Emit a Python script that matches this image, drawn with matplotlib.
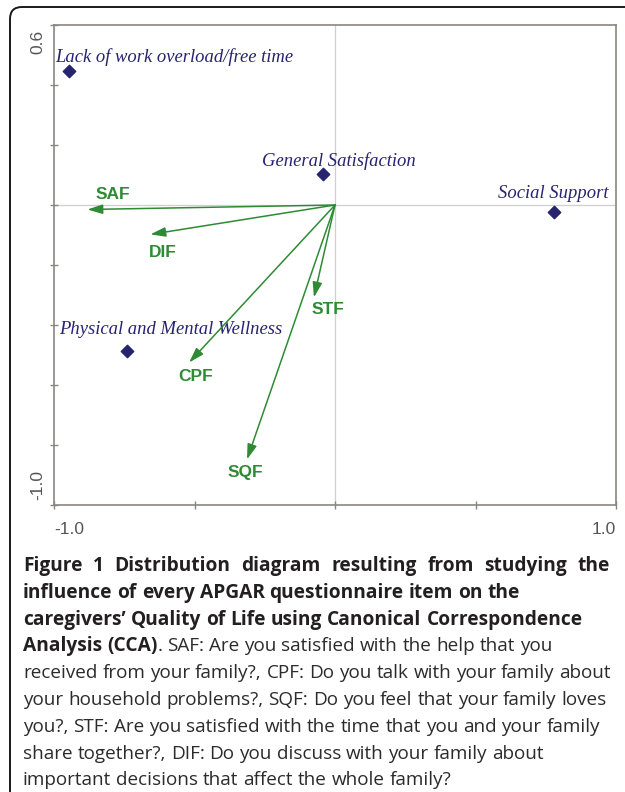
import matplotlib
matplotlib.use("Agg")
import matplotlib.pyplot as plt
from matplotlib.patches import FancyBboxPatch

# site scores (environmental variables)
site_names = ["Lack of work overload/free time", "General Satisfaction",
              "Social Support", "Physical and Mental Wellness"]
site_x = [-0.948, -0.043, 0.778, -0.739]
site_y = [0.448, 0.102, -0.022, -0.488]

# APGAR items (arrows from origin)
item_names = ["SAF", "DIF", "CPF", "SQF", "STF"]
item_x = [-0.881, -0.657, -0.519, -0.313, -0.075]
item_y = [-0.015, -0.098, -0.525, -0.848, -0.308]

# caption lines: (text, bold) pieces
caption = [
    [("Figure 1 Distribution diagram resulting from studying the", True)],
    [("influence of every APGAR questionnaire item on the", True)],
    [("caregivers\u2019 Quality of Life using Canonical Correspondence", True)],
    [("Analysis (CCA)", True), (". SAF: Are you satisfied with the help that you", False)],
    [("received from your family?, CPF: Do you talk with your family about", False)],
    [("your household problems?, SQF: Do you feel that your family loves", False)],
    [("you?, STF: Are you satisfied with the time that you and your family", False)],
    [("share together?, DIF: Do you discuss with your family about", False)],
    [("important decisions that affect the whole family?", False)],
]
# justified right edge (px) where the original line is stretched, else None
caption_right = [610, None, None, None, None, None, None, None, None]

navy = "#26246e"
green = "#2e8b34"
frame = "#8a8580"

W, H = 625, 792
fig = plt.figure(figsize=(W / 100, H / 100), dpi=100)
renderer = fig.canvas.get_renderer()
ax = fig.add_axes([54 / W, 1 - 505 / H, (616 - 54) / W, (505 - 25) / H])
ax.set_xlim(-1.0, 1.0)
ax.set_ylim(-1.0, 0.6)

for s in ax.spines.values():
    s.set_color(frame)
    s.set_linewidth(1.2)
ax.set_xticks([-1.0, -0.5, 0.0, 0.5, 1.0])
ax.set_yticks([0.6, 0.4, 0.2, 0.0, -0.2, -0.4, -0.6, -0.8, -1.0])
ax.tick_params(direction="inout", length=6, width=1, color=frame,
               labelbottom=False, labelleft=False)

ax.axhline(0, color="#cfcfcf", lw=0.9, zorder=0)
ax.axvline(0, color="#cfcfcf", lw=0.9, zorder=0)

# end labels only, like the original software
tick_kw = dict(color="#555555", fontsize=12.5, family="Liberation Sans")
ax.text(0, -0.035, "-1.0", transform=ax.transAxes, ha="left", va="top", **tick_kw)
ax.text(1, -0.035, "1.0", transform=ax.transAxes, ha="right", va="top", **tick_kw)
ax.text(-0.015, 0.99, "0.6", transform=ax.transAxes, ha="right", va="top",
        rotation=90, **tick_kw)
ax.text(-0.015, 0.01, "-1.0", transform=ax.transAxes, ha="right", va="bottom",
        rotation=90, **tick_kw)

ax.scatter(site_x, site_y, marker="D", s=40, color=navy, zorder=3)
site_off = [(-13, 9), (16, 8), (0, 14), (43, 17)]
site_ha = ["left", "center", "center", "center"]
for name, x, y, off, ha in zip(site_names, site_x, site_y, site_off, site_ha):
    ax.annotate(name, (x, y), xytext=off, textcoords="offset pixels",
                ha=ha, va="baseline", color=navy, fontsize=13.4,
                family="Liberation Serif", style="italic")

item_off = [(25, 15), (12, -18), (6, -14), (-2, -13), (14, -12)]
for name, x, y, off in zip(item_names, item_x, item_y, item_off):
    ax.annotate("", xy=(x, y), xytext=(0, 0),
                arrowprops=dict(arrowstyle="-|>,head_length=0.7,head_width=0.22",
                                color=green, lw=1.1, mutation_scale=13,
                                shrinkA=0, shrinkB=0))
    ax.annotate(name, (x, y), xytext=off, textcoords="offset pixels",
                ha="center", va="center", color=green, fontsize=12.5,
                family="Liberation Sans", weight="bold")


# caption, set word by word so a line can be stretched
def cap_style(bold):
    if bold:
        return dict(color="#231f20", family="Open Sans", weight="bold", fontsize=13.8)
    return dict(color="#2b2b2b", family="Open Sans", fontsize=13.6)


def width(s, bold):
    t = fig.text(0, 0, s, **cap_style(bold))
    w = t.get_window_extent(renderer).width
    t.remove()
    return w


def split_words(pieces):
    words = []
    new_word = True
    for text, bold in pieces:
        for k, p in enumerate(text.split(" ")):
            if k > 0:
                new_word = True
            if p == "":
                continue
            if new_word or not words:
                words.append([(p, bold)])
            else:
                words[-1].append((p, bold))
            new_word = False
    return words


x_left = 23
line_y = [571 + 26.8 * i for i in range(9)]
for pieces, right, ly in zip(caption, caption_right, line_y):
    words = split_words(pieces)
    wlens = [sum(width(p, b) for p, b in w) for w in words]
    b0 = pieces[-1][1]
    gap = width("a a", b0) - width("aa", b0)
    if right is not None:
        gap = (right - x_left - sum(wlens)) / max(len(words) - 1, 1)
    x = x_left
    for w, wl in zip(words, wlens):
        xx = x
        for p, b in w:
            fig.text(xx / W, 1 - ly / H, p, va="baseline", **cap_style(b))
            xx += width(p, b)
        x += wl + gap

box = FancyBboxPatch((0.10, -0.3), 7.0, 7.85 + 0.3, boxstyle="round,pad=0,rounding_size=0.12",
                     transform=fig.dpi_scale_trans, fill=False, ec="#1a1a1a", lw=1.4)
fig.patches.append(box)

fig.savefig("out.png", dpi=100)
